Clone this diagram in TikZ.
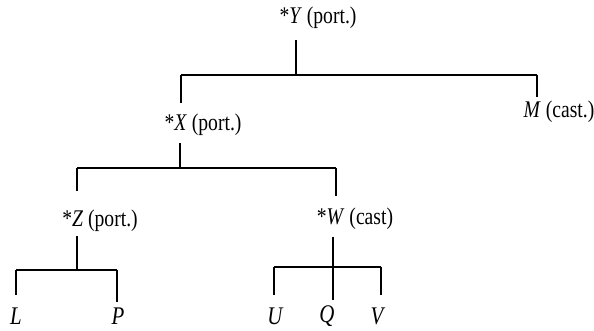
\documentclass[tikz,border=0pt]{standalone}
\usepackage{fontspec}
\setmainfont{Liberation Serif}
\usetikzlibrary{positioning,calc}
\newcommand\talltxt[1]{\scalebox{0.92}[1.12]{#1}}

\begin{document}
\begin{tikzpicture}[x=0.75pt,y=0.75pt,yscale=-1,xscale=1,
  lbl/.style={font=\fontsize{16}{18}\selectfont, inner sep=0pt},
  leaf/.style={font=\fontsize{17}{19}\selectfont\itshape, inner sep=0pt},
  br/.style={line width=1.1}]
\useasboundingbox (0,0) rectangle (594,331);

% Text Node
\node[lbl] (Y) at (318,18) {\talltxt{*\textit{Y} (port.)}};
% Text Node
\node[lbl] (X) at (203,125) {\talltxt{*\textit{X} (port.)}};
% Text Node
\node[lbl] (M) at (559,112) {\talltxt{\textit{M} (cast.)}};
% Text Node
\node[lbl] (Z) at (100,221) {\talltxt{*\textit{Z} (port.)}};
% Text Node
\node[lbl] (W) at (355,219) {\talltxt{*\textit{W} (cast)}};
% Text Node
\node[leaf] (L) at (16,316) {\talltxt{L}};
\node[leaf] (P) at (118,316) {\talltxt{P}};
\node[leaf] (U) at (275,316) {\talltxt{U}};
\node[leaf] (Q) at (327,316) {\talltxt{Q}};
\node[leaf] (V) at (377,316) {\talltxt{V}};

%Junctions
\coordinate (yb) at (296,75);
\coordinate (yl) at (181,75);
\coordinate (yr) at (537,75);
\coordinate (xb) at (180,168);
\coordinate (xl) at (77,168);
\coordinate (xr) at (336,168);
\coordinate (zb) at (77,270);
\coordinate (zl) at (16,270);
\coordinate (zr) at (117,270);
\coordinate (wb) at (333,267);
\coordinate (wl) at (274,267);
\coordinate (wr) at (381,267);

%Straight Lines [Y]
\draw[br, shorten <=8pt] (Y.south -| yb) -- (yb);
\draw[br] (yl) -- (yr);
\draw[br, shorten >=8pt] (yl) -- (yl |- X.north);
\draw[br, shorten >=3pt] (yr) -- (yr |- M.north);

%Straight Lines [X]
\draw[br, shorten <=5pt] (X.south -| xb) -- (xb);
\draw[br] (xl) -- (xr);
\draw[br, shorten >=14pt] (xl) -- (xl |- Z.north);
\draw[br, shorten >=9pt] (xr) -- (xr |- W.north);

%Straight Lines [Z]
\draw[br, shorten <=3pt] (Z.south -| zb) -- (zb);
\draw[br] (zl) -- (zr);
\draw[br, shorten >=9pt] (zl) -- (zl |- L.north);
\draw[br, shorten >=4pt] (zr) -- (zr |- P.north);

%Straight Lines [W]
\draw[br, shorten <=5pt] (W.south -| wb) -- (wb);
\draw[br] (wl) -- (wr);
\draw[br, shorten >=9pt] (wl) -- (wl |- U.north);
\draw[br, shorten >=4pt] (wb) -- (wb |- Q.north);
\draw[br, shorten >=9pt] (wr) -- (wr |- V.north);

\end{tikzpicture}
\end{document}
